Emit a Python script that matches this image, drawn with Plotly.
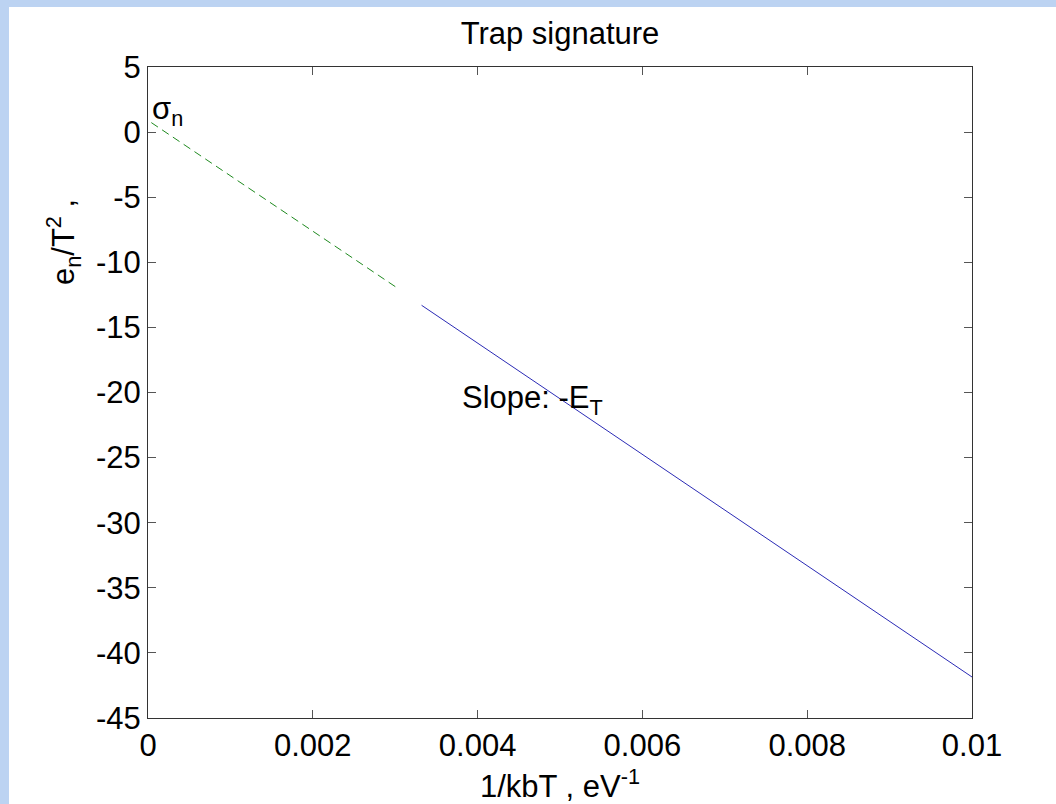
import plotly.graph_objects as go

# Data
x_ticks = [0, 0.002, 0.004, 0.006, 0.008, 0.01]
x_tick_labels = ["0", "0.002", "0.004", "0.006", "0.008", "0.01"]
y_ticks = [-45, -40, -35, -30, -25, -20, -15, -10, -5, 0, 5]
y_tick_labels = [str(v) for v in y_ticks]

extrap_x = [0.00004, 0.00302]      # green dashed extrapolation
extrap_y = [0.73, -11.95]
meas_x = [0.00332, 0.01]           # blue measured line
meas_y = [-13.3, -41.85]

FONT = "Liberation Sans, Arial, sans-serif"
FS = 31
W, H = 1056, 804
L, R, T, B = 148, 84, 67, 86
pw, ph = W - L - R, H - T - B

def px_x(p):
    return (p - L) / pw

def px_y(p):
    return (H - B - p) / ph

fig = go.Figure()
fig.add_trace(go.Scatter(x=extrap_x, y=extrap_y, mode="lines",
                         line=dict(color="#1f8a1f", width=1, dash="8px,5px"),
                         showlegend=False, hoverinfo="skip"))
fig.add_trace(go.Scatter(x=meas_x, y=meas_y, mode="lines",
                         line=dict(color="#2b2bb5", width=1),
                         showlegend=False, hoverinfo="skip"))

axis_common = dict(showline=True, linecolor="#333333", linewidth=1,
                   mirror="allticks", ticks="inside", ticklen=8, tickwidth=1,
                   tickcolor="#555555", showgrid=False, zeroline=False,
                   tickfont=dict(family=FONT, size=FS, color="black"))

fig.update_xaxes(range=[0, 0.01], tickvals=x_ticks, ticktext=x_tick_labels, **axis_common)
fig.update_yaxes(range=[-45, 5], tickvals=y_ticks, ticktext=y_tick_labels, **axis_common)

# white figure panel over slide-blue background
fig.add_shape(type="rect", xref="paper", yref="paper",
              x0=px_x(9), x1=px_x(W + 5), y0=px_y(H + 5), y1=px_y(7),
              fillcolor="white", line=dict(width=0), layer="below")

annots = [
    dict(text="σ<sub>n</sub>", x=px_x(150), y=px_y(111), xanchor="left", yanchor="middle"),
    dict(text="Slope: -E<sub>T</sub>", x=px_x(460), y=px_y(400), xanchor="left", yanchor="middle"),
    dict(text="1/kbT , eV<sup>-1</sup>", x=0.5, y=px_y(784), xanchor="center", yanchor="middle"),
    dict(text="e<sub>n</sub>/T<sup>2</sup> ,", x=px_x(63), y=px_y(242), xanchor="center",
         yanchor="middle", textangle=-90),
]
for a in annots:
    fig.add_annotation(xref="paper", yref="paper", showarrow=False,
                       font=dict(family=FONT, size=FS, color="black"), **a)

fig.update_layout(
    width=W, height=H,
    margin=dict(l=L, r=R, t=T, b=B),
    paper_bgcolor="#bcd3f2",
    plot_bgcolor="white",
    title=dict(text="Trap signature", x=0.5, xref="paper", xanchor="center",
               y=1 - 33 / H, yref="container", yanchor="middle",
               font=dict(family=FONT, size=FS, color="black")),
)

fig.write_html("out.html", config={"displayModeBar": False},
               post_script="document.body.style.margin='0';document.body.style.overflow='hidden';")
